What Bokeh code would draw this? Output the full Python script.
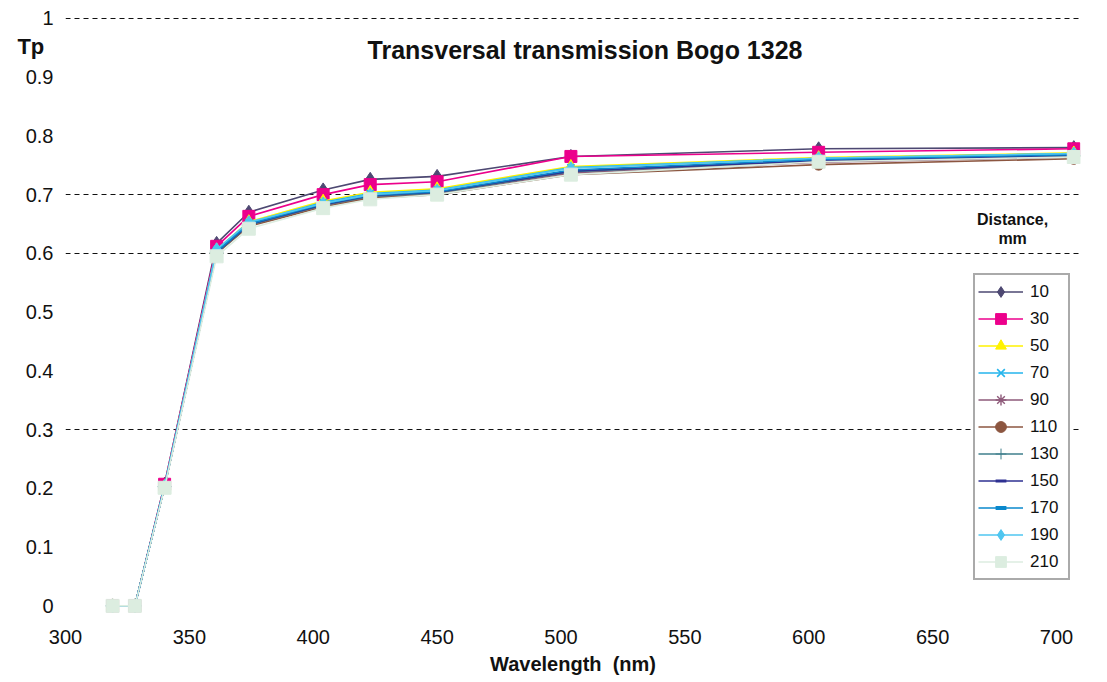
from bokeh.plotting import figure
from bokeh.models import (Range1d, FixedTicker, NumeralTickFormatter, Legend,
                          LegendItem, Label)
from bokeh.embed import file_html
from bokeh.resources import INLINE

# Wavelength (nm) of each measurement
wavelength = [319, 328, 340, 361, 374, 404, 423, 450, 504, 604, 707]

# Transversal transmission Tp per distance (mm)
distances = ["10", "30", "50", "70", "90", "110", "130", "150", "170", "190", "210"]
tp_10 = [0, 0, 0.207, 0.617, 0.670, 0.708, 0.726, 0.731, 0.765, 0.778, 0.780]
tp_30 = [0, 0, 0.207, 0.612, 0.663, 0.700, 0.717, 0.722, 0.765, 0.772, 0.778]
tp_50 = [0, 0, 0.204, 0.606, 0.654, 0.689, 0.704, 0.710, 0.748, 0.763, 0.771]
tp_70 = [0, 0, 0.204, 0.605, 0.652, 0.687, 0.702, 0.708, 0.746, 0.762, 0.770]
tp_90 = [0, 0, 0.203, 0.602, 0.648, 0.681, 0.696, 0.702, 0.737, 0.755, 0.764]
tp_110 = [0, 0, 0.203, 0.600, 0.646, 0.679, 0.694, 0.700, 0.734, 0.751, 0.761]
tp_130 = [0, 0, 0.203, 0.601, 0.648, 0.682, 0.697, 0.703, 0.739, 0.757, 0.766]
tp_150 = [0, 0, 0.203, 0.602, 0.649, 0.683, 0.698, 0.704, 0.740, 0.758, 0.767]
tp_170 = [0, 0, 0.203, 0.603, 0.650, 0.684, 0.699, 0.705, 0.742, 0.760, 0.768]
tp_190 = [0, 0, 0.204, 0.607, 0.653, 0.685, 0.700, 0.707, 0.745, 0.762, 0.770]
tp_210 = [0, 0, 0.201, 0.595, 0.642, 0.677, 0.692, 0.700, 0.734, 0.756, 0.764]

x_ticks = [300, 350, 400, 450, 500, 550, 600, 650, 700]
y_ticks = [0, 0.1, 0.2, 0.3, 0.4, 0.5, 0.6, 0.7, 0.8, 0.9, 1.0]
grid_levels = [0.3, 0.6, 0.7, 1.0]

series = [tp_10, tp_30, tp_50, tp_70, tp_90, tp_110, tp_130, tp_150, tp_170, tp_190, tp_210]
colors = ["#4D4872", "#EC008C", "#FFF200", "#25B5EC", "#8E5A7A", "#8C5640",
          "#3F7F8C", "#2E3192", "#0A88CC", "#4FC6F0", "#DCEDE0"]
markers = ["diamond", "square", "triangle", "x", "asterisk", "circle",
           "cross", "dash", "dash", "diamond", "square"]
sizes = [14, 12, 12, 10, 12, 11, 14, 8, 12, 13, 13]
marker_widths = [1, 1, 1, 1.6, 1.4, 1, 1, 3, 4, 1, 1]

FONT = "Liberation Sans"

p = figure(width=1107, height=682, output_backend="svg", toolbar_location=None,
           x_range=Range1d(300, 709.7), y_range=Range1d(-0.03, 1.01),
           min_border_left=65, min_border_right=22, min_border_top=12,
           min_border_bottom=59)
p.outline_line_color = None
p.background_fill_color = "white"
p.border_fill_color = "white"

# axes
p.xaxis.ticker = FixedTicker(ticks=x_ticks)
p.yaxis.ticker = FixedTicker(ticks=y_ticks)
p.yaxis.formatter = NumeralTickFormatter(format="0.[0]")
for ax in (p.xaxis, p.yaxis):
    ax.axis_line_color = None
    ax.major_tick_line_color = None
    ax.minor_tick_line_color = None
    ax.major_tick_out = 0
    ax.major_tick_in = 0
    ax.major_label_text_font = FONT
    ax.major_label_text_font_size = "20px"
    ax.major_label_text_color = "#111111"
p.yaxis.major_label_standoff = 12
p.xaxis.major_label_standoff = 6
p.xaxis.axis_label = "Wavelength\u00a0\u00a0(nm)"
p.xaxis.axis_label_text_font = FONT
p.xaxis.axis_label_text_font_style = "bold"
p.xaxis.axis_label_text_font_size = "20px"
p.xaxis.axis_label_standoff = 6
p.xaxis.axis_label_text_color = "#111111"

# dashed horizontal gridlines
p.xgrid.visible = False
p.ygrid.ticker = FixedTicker(ticks=grid_levels)
p.ygrid.grid_line_color = "#111111"
p.ygrid.grid_line_dash = "5 4"
p.ygrid.grid_line_width = 1

items = []
for name, ys, c, m, s, mw in zip(distances, series, colors, markers, sizes, marker_widths):
    ln = p.line(wavelength, ys, line_color=c, line_width=1.6)
    sc = p.scatter(wavelength, ys, marker=m, size=s, fill_color=c, line_color=c,
                   line_width=mw)
    items.append(LegendItem(label=name, renderers=[ln, sc]))

legend = Legend(items=items, location=(908, 43), orientation="vertical",
                glyph_width=45, glyph_height=27, label_height=27, label_width=35,
                spacing=0, padding=3, margin=0, label_standoff=7,
                label_text_font=FONT, label_text_font_size="17px",
                label_text_color="#111111",
                border_line_color="#555555", border_line_width=2,
                background_fill_color="white", background_fill_alpha=1)
p.add_layout(legend, "center")

title = Label(x=509.7, y=0.947, text="Transversal transmission Bogo 1328",
              text_align="center", text_baseline="middle",
              text_font=FONT, text_font_style="bold", text_font_size="25px",
              text_color="#111111")
p.add_layout(title)

# "Tp" sits left of the frame; kept in a side panel so it is not clipped
tp_label = Label(x=286.0, y=0.952, text="Tp",
                 text_align="center", text_baseline="middle",
                 text_font=FONT, text_font_style="bold", text_font_size="22px",
                 text_color="#111111")
p.add_layout(tp_label, "right")

dist_label = Label(x=682.3, y=0.642, text="Distance,\nmm", text_align="center",
                   text_baseline="middle", text_font=FONT, text_font_style="bold",
                   text_font_size="16px", text_line_height=1.1, text_color="#111111")
p.add_layout(dist_label)

with open("out.html", "w") as f:
    f.write(file_html(p, INLINE))
